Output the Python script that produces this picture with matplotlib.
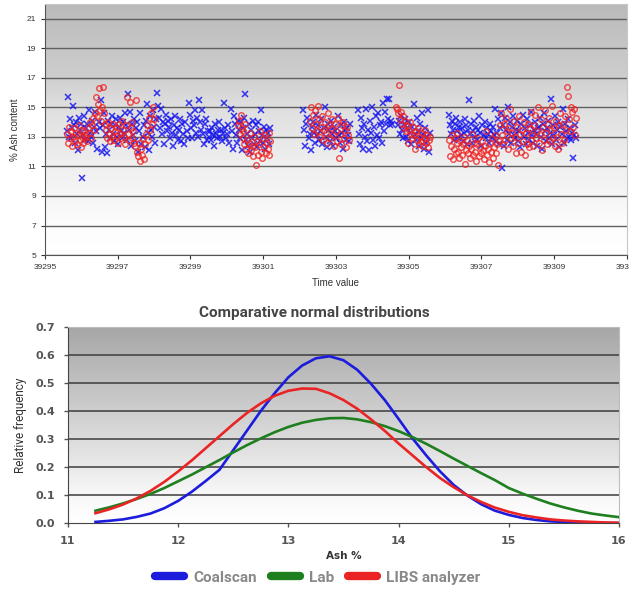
import numpy as np
import matplotlib
matplotlib.use("Agg")
import matplotlib.pyplot as plt
from matplotlib.colors import LinearSegmentedColormap
from matplotlib.lines import Line2D

# ---- top panel: % ash over time (segment by segment) ----
coalscan_starts = [39295.6, 39302.1, 39303.6, 39304.7, 39306.1]
coalscan_ends = [39301.2, 39303.4, 39304.55, 39305.6, 39309.6]
coalscan_seg1 = [
    13.4, 15.7, 13.0, 14.2, 12.9, 13.6, 15.1, 13.8, 12.6, 14.0,
    13.2, 12.1, 14.3, 13.5, 13.9, 10.2, 13.1, 14.4, 12.8, 13.6,
    13.9, 12.7, 14.8, 13.3, 13.0, 14.1, 12.6, 13.7, 14.7, 13.4,
    12.2, 14.0, 13.6, 15.5, 12.0, 13.8, 14.6, 12.3, 13.2, 11.9,
    14.1, 13.5, 12.9, 13.9, 14.4, 13.2, 12.7, 13.8, 14.2, 13.0,
    12.5, 13.7, 14.3, 13.4, 12.9, 14.0, 13.3, 14.6, 13.8, 12.8,
    15.9, 13.5, 14.7, 12.4, 13.9, 13.1, 14.2, 12.7, 13.6, 14.0,
    12.0, 13.4, 14.6, 12.5, 13.0, 13.8, 12.3, 14.1, 15.2, 13.3,
    12.1, 14.4, 13.5, 13.0, 14.8, 13.7, 12.6, 14.2, 16.0, 15.1,
    14.3, 13.6, 14.9, 13.2, 14.0, 12.5, 13.9, 14.5, 13.4, 14.1,
    13.7, 12.9, 14.2, 13.3, 12.4, 13.8, 14.4, 13.1, 13.6, 12.8,
    13.5, 14.2, 12.7, 13.9, 13.2, 12.5, 14.0, 13.4, 12.9, 15.3,
    14.5, 13.6, 12.9, 14.1, 13.8, 14.8, 13.3, 14.3, 13.0, 15.5,
    14.0, 13.5, 14.8, 13.2, 12.5, 13.9, 14.2, 12.8, 13.4, 13.0,
    13.4, 12.8, 13.6, 13.1, 12.4, 13.9, 13.2, 12.9, 13.5, 14.0,
    13.0, 13.5, 12.7, 13.3, 15.3, 13.6, 12.9, 13.2, 13.8, 12.6,
    14.9, 13.4, 12.2, 14.4, 13.9, 13.1, 12.6, 14.1, 13.5, 12.9,
    14.0, 12.1, 13.6, 14.3, 15.9, 12.8, 13.2, 12.4, 13.9, 12.0,
    13.5, 12.9, 14.1, 12.5, 13.2, 13.8, 12.3, 14.0, 13.4, 12.7,
    14.8, 13.1, 12.6, 13.7, 12.2, 13.5, 12.9, 13.3, 12.5, 13.6,
]
coalscan_seg2 = [
    14.8, 13.5, 12.4, 13.9, 14.3, 12.9, 13.2, 12.1, 13.7, 14.0,
    13.3, 12.6, 14.5, 13.1, 13.8, 12.8, 13.4, 14.2, 12.5, 13.6,
    15.0, 13.0, 12.3, 13.9, 13.5, 12.7, 14.1, 13.2, 12.4, 13.7,
    13.4, 12.9, 14.4, 13.1, 12.6, 13.8, 13.3, 12.2, 14.0, 13.5,
    12.8, 13.6, 13.1, 12.7, 13.9,
]
coalscan_seg3 = [
    14.8, 13.2, 12.5, 14.3, 13.6, 12.2, 13.9, 13.0, 14.9, 12.7,
    13.5, 12.1, 14.1, 13.3, 15.0, 12.8, 13.7, 12.4, 14.4, 13.1,
    14.6, 12.9, 13.8, 14.0, 12.6, 15.3, 13.4, 14.7, 13.9, 15.6,
    14.2, 15.6, 13.8, 14.1, 13.9,
]
coalscan_seg4 = [
    13.8, 14.1, 13.2, 14.4, 13.5, 12.9, 13.9, 14.2, 13.0, 13.6,
    12.7, 14.0, 13.3, 12.5, 13.7, 15.2, 13.1, 12.8, 14.3, 13.4,
    12.4, 13.9, 12.9, 14.6, 13.2, 12.2, 13.6, 12.6, 13.0, 14.8,
    12.0, 13.3,
]
coalscan_seg5 = [
    14.5, 13.8, 13.2, 14.1, 13.5, 12.8, 13.9, 14.3, 13.4, 12.9,
    13.7, 14.0, 13.1, 13.6, 12.7, 13.3, 14.2, 13.8, 12.5, 13.5,
    15.5, 13.2, 13.9, 12.6, 13.4, 14.1, 13.0, 13.7, 12.8, 13.5,
    14.4, 13.3, 12.4, 13.8, 13.1, 14.0, 12.9, 13.6, 13.2, 12.6,
    13.9, 13.4, 12.9, 13.7, 13.1, 14.9, 12.7, 13.3, 14.2, 12.5,
    13.6, 14.6, 10.9, 13.8, 12.4, 14.3, 13.5, 12.8, 15.0, 13.2,
    14.0, 12.6, 13.7, 14.4, 13.1, 12.9, 13.5, 14.1, 12.7, 13.4,
    12.3, 13.9, 14.5, 13.0, 13.6, 12.5, 14.2, 13.3, 12.8, 13.8,
    14.7, 13.1, 12.6, 13.5, 14.0, 13.2, 12.4, 13.6, 13.7, 14.3,
    13.0, 12.2, 13.9, 14.6, 13.4, 12.7, 13.6, 14.1, 12.9, 13.3,
    15.6, 12.5, 13.8, 13.1, 14.4, 12.8, 13.5, 14.0, 12.3, 13.7,
    13.2, 14.9, 12.6, 13.9, 13.4, 12.9, 14.2, 13.0, 13.6, 12.8,
    13.3, 11.6, 13.1, 13.8, 12.9,
]
coalscan_segments = [coalscan_seg1, coalscan_seg2, coalscan_seg3, coalscan_seg4, coalscan_seg5]

libs_starts = [39295.6, 39300.3, 39302.3, 39304.65, 39306.1]
libs_ends = [39298.0, 39301.2, 39303.35, 39305.6, 39309.6]
libs_seg1 = [
    13.2, 12.6, 13.7, 12.9, 13.4, 12.4, 13.0, 13.6, 12.7, 13.3,
    12.5, 13.1, 13.8, 12.8, 12.3, 13.5, 13.0, 12.6, 13.4, 12.9,
    13.1, 12.7, 13.6, 13.3, 14.0, 12.9, 13.8, 14.3, 13.5, 14.6,
    15.7, 14.4, 15.2, 16.3, 14.8, 14.1, 15.0, 16.4, 14.6, 13.9,
    13.5, 12.9, 14.0, 13.2, 12.7, 13.6, 13.0, 13.9, 12.8, 13.4,
    13.7, 13.1, 12.6, 13.9, 13.3, 12.9, 14.1, 13.5, 13.0, 12.5,
    13.8, 15.7, 13.2, 12.8, 15.4, 13.6, 14.0, 12.9, 13.4, 12.6,
    12.4, 15.5, 12.0, 11.7, 12.6, 11.4, 12.2, 11.8, 12.9, 11.5,
    12.5, 13.2, 13.8, 12.8, 14.3, 13.5, 14.6, 13.9, 15.0, 14.2,
]
libs_seg2 = [
    13.8, 14.1, 13.2, 14.5, 13.6, 12.9, 13.4, 12.5, 13.9, 12.2,
    12.8, 11.9, 12.6, 13.3, 12.1, 12.4, 11.7, 13.0, 12.3, 11.1,
    12.7, 11.8, 12.5, 13.4, 12.0, 11.6, 12.9, 12.3, 13.1, 11.9,
    12.6, 12.2, 13.3, 11.8, 12.7,
]
libs_seg3 = [
    14.1, 15.0, 13.6, 14.5, 13.2, 14.8, 13.9, 13.4, 15.1, 14.2,
    13.0, 13.7, 14.4, 12.8, 13.5, 14.0, 13.3, 12.6, 14.6, 13.8,
    12.9, 13.6, 14.2, 13.1, 12.4, 13.9, 13.4, 12.7, 14.3, 11.6,
    13.2, 12.5, 13.8, 14.0, 12.9, 13.5, 12.3, 13.7, 13.1, 12.8,
]
libs_seg4 = [
    15.0, 14.9, 14.6, 16.5, 14.2, 14.7, 13.9, 14.4, 13.6, 14.1,
    13.4, 13.8, 12.6, 13.5, 14.0, 13.2, 12.9, 13.7, 13.1, 12.2,
    13.4, 12.8, 13.6, 12.5, 13.0, 12.7, 13.3, 12.4, 12.9, 13.5,
    12.6, 13.1, 12.3, 12.8, 13.0,
]
libs_seg5 = [
    12.8, 11.7, 12.4, 13.1, 11.5, 12.2, 12.9, 11.9, 12.6, 13.3,
    12.0, 11.6, 12.7, 12.3, 11.8, 12.5, 13.0, 11.2, 12.1, 12.8,
    11.9, 12.4, 11.6, 12.2, 13.2, 11.8, 12.6, 12.0, 11.4, 12.5,
    12.9, 11.7, 12.3, 11.9, 12.7, 12.1, 11.5, 12.4, 13.4, 11.8,
    12.2, 11.3, 12.6, 12.0, 12.9, 11.6, 12.3, 13.1, 11.9, 12.5,
    11.1, 12.7,
    13.8, 14.6, 13.1, 12.5, 13.9, 12.8, 14.3, 13.4, 12.2, 13.6,
    14.9, 12.9, 13.3, 12.4, 14.1, 13.0, 11.9, 13.7, 12.6, 14.4,
    13.2, 12.0, 13.5, 12.7, 14.0, 11.8, 13.3, 12.5, 13.9, 12.3,
    13.6, 14.7, 12.8, 13.1, 12.4, 13.8, 14.5, 12.9, 13.4, 15.0,
    12.6, 13.2, 14.2, 12.1, 13.7, 12.8, 14.8, 13.3, 12.5, 13.9,
    14.3, 12.7, 13.5, 15.1, 12.9, 13.6, 12.4, 14.1, 13.0, 12.2,
    13.8, 14.6, 13.2, 12.6, 13.9, 12.8, 14.4, 13.5, 16.4, 15.8,
    14.2, 13.4, 15.0, 14.7, 13.7, 14.9, 13.1, 14.3,
]
libs_segments = [libs_seg1, libs_seg2, libs_seg3, libs_seg4, libs_seg5]

time_ticks = list(range(39295, 39312, 2))
ash_ticks = list(range(5, 22, 2))

# ---- bottom panel: comparative normal distributions ----
ash_pct = [11.25, 11.375, 11.5, 11.625, 11.75, 11.875, 12.0, 12.125, 12.25, 12.375,
           12.5, 12.625, 12.75, 12.875, 13.0, 13.125, 13.25, 13.375, 13.5, 13.625,
           13.75, 13.875, 14.0, 14.125, 14.25, 14.375, 14.5, 14.625, 14.75, 14.875,
           15.0, 15.125, 15.25, 15.375, 15.5, 15.625, 15.75, 15.875, 16.0]
freq_coalscan = [0.004, 0.008, 0.013, 0.022, 0.034, 0.053, 0.079, 0.112, 0.150, 0.190,
                 0.260, 0.330, 0.400, 0.463, 0.520, 0.562, 0.588, 0.595, 0.581, 0.547,
                 0.497, 0.439, 0.372, 0.303, 0.242, 0.185, 0.136, 0.098, 0.067, 0.044,
                 0.029, 0.018, 0.011, 0.006, 0.004, 0.002, 0.001, 0.0, 0.0]
freq_lab = [0.044, 0.056, 0.070, 0.086, 0.104, 0.125, 0.149, 0.173, 0.199, 0.225,
            0.252, 0.278, 0.302, 0.324, 0.343, 0.358, 0.368, 0.374, 0.375, 0.370,
            0.360, 0.346, 0.328, 0.307, 0.283, 0.257, 0.230, 0.204, 0.178, 0.153,
            0.125, 0.105, 0.087, 0.070, 0.056, 0.044, 0.034, 0.027, 0.021]
freq_libs = [0.035, 0.049, 0.066, 0.088, 0.115, 0.147, 0.184, 0.224, 0.267, 0.310,
             0.353, 0.393, 0.427, 0.454, 0.472, 0.480, 0.479, 0.463, 0.439, 0.408,
             0.370, 0.329, 0.284, 0.242, 0.200, 0.161, 0.128, 0.099, 0.075, 0.055,
             0.040, 0.028, 0.020, 0.013, 0.009, 0.006, 0.004, 0.002, 0.001]
series_names = ["Coalscan", "Lab", "LIBS analyzer"]
series_colors = ["#1c1cdc", "#1f7f1f", "#ea2424"]
freq_ticks = [0.0, 0.1, 0.2, 0.3, 0.4, 0.5, 0.6, 0.7]
ash_ticks_bottom = [11, 12, 13, 14, 15, 16]

NARROW = ["Roboto", "DejaVu Sans"]


def shade(ax, stops):
    """vertical grey-to-white gradient behind the data"""
    cmap = LinearSegmentedColormap.from_list("bg", stops)
    x0, x1 = ax.get_xlim()
    y0, y1 = ax.get_ylim()
    grad = np.linspace(0, 1, 256).reshape(-1, 1)
    ax.imshow(grad, extent=[x0, x1, y0, y1], origin="lower", aspect="auto",
              cmap=cmap, zorder=0)


def frame(ax, dark, light):
    for side in ("left", "bottom"):
        ax.spines[side].set_color(dark)
    for side in ("top", "right"):
        ax.spines[side].set_color(light)


fig = plt.figure(figsize=(6.29, 5.89), dpi=100)

# top panel
ax1 = fig.add_axes([0.0715, 0.567, 0.925, 0.426])
ax1.set_xlim(39295, 39311)
ax1.set_ylim(5, 22)
shade(ax1, [(0, "#ffffff"), (0.12, "#fcfcfc"), (0.35, "#f0f0f0"),
            (0.6, "#dedede"), (0.72, "#cdcdcd"), (1, "#bababa")])
for v in ash_ticks:
    ax1.axhline(v, color="#606060", lw=1.0, zorder=1)

for t0, t1, vals in zip(coalscan_starts, coalscan_ends, coalscan_segments):
    ax1.plot(np.linspace(t0, t1, len(vals)), vals, "x", color="#1414f0",
             ms=3.8, mew=1.1, alpha=0.85, zorder=2)
for t0, t1, vals in zip(libs_starts, libs_ends, libs_segments):
    ax1.plot(np.linspace(t0, t1, len(vals)), vals, "o", mfc="none", mec="#f02020",
             ms=4.0, mew=1.0, alpha=0.8, zorder=3)

ax1.set_xticks(time_ticks)
ax1.set_yticks(ash_ticks)
ax1.tick_params(labelsize=6, colors="#333333", length=3, width=0.8)
for lab in ax1.get_xticklabels() + ax1.get_yticklabels():
    lab.set_fontfamily("Liberation Sans")
ax1.set_xlabel("Time value", fontsize=7, family="Liberation Sans", color="#333333", labelpad=5)
ax1.set_ylabel("% Ash content", fontsize=7, family="Liberation Sans", color="#333333", labelpad=5)
frame(ax1, "#555555", "#c8c8c8")

# bottom panel
ax2 = fig.add_axes([0.108, 0.112, 0.876, 0.333])
ax2.set_xlim(11, 16)
ax2.set_ylim(0, 0.7)
shade(ax2, [(0, "#ffffff"), (0.15, "#f7f7f7"), (0.45, "#d9d9d9"),
            (0.75, "#bdbdbd"), (1, "#a6a6a6")])
for v in freq_ticks[1:]:
    ax2.axhline(v, color="#3c3c3c", lw=1.1, zorder=1)

for vals, name, col in zip([freq_coalscan, freq_lab, freq_libs], series_names, series_colors):
    ax2.plot(ash_pct, vals, color=col, lw=1.9, label=name, zorder=3)

ax2.set_xticks(ash_ticks_bottom)
ax2.set_yticks(freq_ticks)
ax2.set_yticklabels([f"{v:.1f}" for v in freq_ticks])
ax2.tick_params(labelsize=8, colors="#555555", length=3, width=1, pad=6)
for lab in ax2.get_xticklabels() + ax2.get_yticklabels():
    lab.set_fontweight("bold")
ax2.set_xlabel("Ash %", fontsize=7.5, fontweight="bold", color="#333333", labelpad=4)
ax2.set_ylabel("Relative frequency", fontsize=8.5, color="#333333", labelpad=6,
               family=NARROW)
frame(ax2, "#444444", "#bdbdbd")

fig.text(0.5, 0.469, "Comparative normal distributions", ha="center", va="center",
         fontsize=11, fontweight="bold", color="#444444", family=NARROW)

handles = [Line2D([0], [0], color=c, lw=6, solid_capstyle="round") for c in series_colors]
leg = fig.legend(handles, series_names, loc="center", bbox_to_anchor=(0.505, 0.019),
                 ncol=3, frameon=False, handlelength=1.9, handletextpad=0.6,
                 columnspacing=0.9, prop=dict(family=NARROW, weight="bold", size=11))
for txt in leg.get_texts():
    txt.set_color("#888888")

fig.savefig("out.png", dpi=100)
